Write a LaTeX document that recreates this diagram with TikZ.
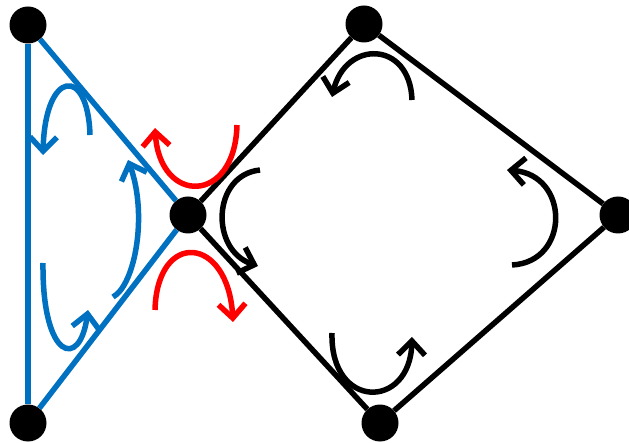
\documentclass[tikz,border=0pt]{standalone}
\usetikzlibrary{arrows.meta}
\definecolor{pblue}{RGB}{0,112,192}
\definecolor{pred}{RGB}{255,0,0}
\begin{document}
\begin{tikzpicture}[x=1pt,y=-1pt,
  dot/.style={circle,fill=black,inner sep=0pt,minimum size=37pt},
  edge/.style={line width=5.5pt},
  rot/.style={line width=5.5pt,-{Straight Barb[length=14pt,width=27pt,line width=5.5pt]}}]
\useasboundingbox (0,0) rectangle (629,443);
\node[dot] (A) at (28,25) {};
\node[dot] (B) at (28,423) {};
\node[dot] (C) at (188,215) {};
\node[dot] (D) at (364,24) {};
\node[dot] (E) at (618,215) {};
\node[dot] (F) at (380,423) {};
% blue triangle
\draw[edge,pblue] (A) -- (B);
\draw[edge,pblue] (B) -- (C);
\draw[edge,pblue] (C) -- (A);
% black quadrilateral
\draw[edge] (C) -- (D);
\draw[edge] (D) -- (E);
\draw[edge] (E) -- (F);
\draw[edge] (F) -- (C);
% blue rotations
\draw[rot,pblue] (90,135) .. controls (88,65) and (45,70) .. (43,155);
\draw[rot,pblue] (43,263) .. controls (42,360) and (80,370) .. (88,310);
\draw[rot,pblue] (113,297) .. controls (135,285) and (148,215) .. (128,160);
% red rotations
\draw[rot,pred] (237,125) .. controls (235,205) and (160,205) .. (155,128);
\draw[rot,pred] (155,310) .. controls (157,230) and (228,235) .. (233,322);
% black rotations
\draw[rot] (260,170) .. controls (212,175) and (210,250) .. (258,266);
\draw[rot] (412,100) .. controls (410,40) and (345,40) .. (332,97);
\draw[rot] (512,265) .. controls (570,262) and (570,175) .. (507,170);
\draw[rot] (332,333) .. controls (330,410) and (410,410) .. (412,337);
\end{tikzpicture}
\end{document}
